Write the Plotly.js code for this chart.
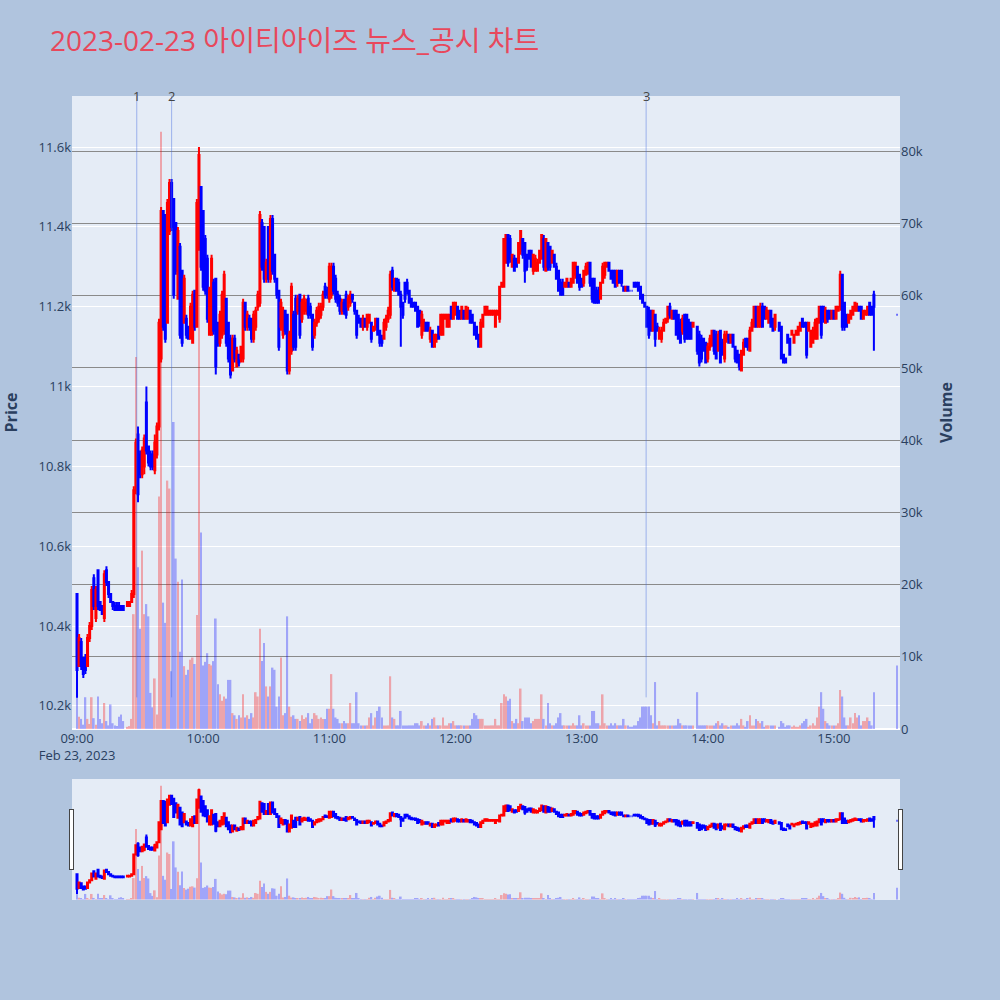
<!DOCTYPE html>
<html><head><meta charset="utf-8">
<script src="https://cdn.plot.ly/plotly-3.0.1.min.js"></script>
<style>html,body{margin:0;padding:0;background:#b0c4de}#chart{width:1000px;height:1000px}</style>
</head><body><div id="chart"></div>
<script>
const tradeDate = '2023-02-23';
const closingAuction = '15:30';
const chartTitle = '2023-02-23 아이티아이즈 뉴스_공시 차트';
const eventLabels = ['1', '2', '3'];
const eventTimes = ['2023-02-23 09:28:25', '2023-02-23 09:45:00', '2023-02-23 13:30:40'];

// one value per minute from 09:00 (continuous session), last value = 15:30 closing auction
const openP = [
10480,10300,10360,10320,10320,10300,10370,10400,10520,10420,
10540,10460,10450,10420,10540,10510,10480,10460,10450,10450,
10450,10450,10450,null,10450,10450,10460,10480,10740,10880,
10830,10780,10800,10960,10850,10830,10830,10790,10830,10900,
11070,11440,11430,11160,11390,11510,11470,11410,11220,11350,
11290,11160,11170,11150,11120,11110,11240,11150,11350,11500,
11440,11370,11320,11130,11130,11260,11270,11160,11110,11130,
11140,11220,11160,11120,11040,11120,11050,11080,11070,11070,
11210,11150,11170,11170,11120,11150,11200,11210,11410,11400,
11270,11400,11270,11420,11330,11270,11240,11150,11130,11190,
11180,11040,11090,11180,11220,11190,11230,11170,11190,11190,
11220,11200,11180,11130,11160,11170,11180,11200,11250,11240,
11220,11230,11300,11270,11230,11220,11190,11210,11230,11200,
11210,11230,11210,11190,11170,11170,11150,11170,11150,11160,
11160,11140,11150,11170,11140,11120,11120,11150,11170,11180,
11290,11240,11270,11260,11230,11210,11260,11260,11240,11220,
11210,11210,11200,11190,11130,11140,11160,11160,11120,11140,
11100,11120,11150,11130,11130,11170,11150,11150,11200,11170,
11180,11200,11190,11170,11190,11170,11170,11190,11180,11160,
11150,11130,11100,11150,11180,11180,11180,11180,11180,11150,
11180,11170,11250,11250,11310,11380,11370,11300,11320,11320,
11310,11340,11370,11360,11330,11340,11340,11290,11290,11290,
11310,11320,11370,11290,11360,11350,11310,11330,11300,11290,
11260,11260,11250,11250,11260,11250,11260,11280,11300,11280,
11270,11260,11280,11290,11310,11270,11270,11240,11240,11220,
11260,11280,11300,11310,11290,11290,11290,11260,11290,11290,
11250,11240,11250,11240,11240,11260,11260,11260,11250,11230,
11210,11200,11190,11190,11140,11180,11150,11120,11120,11140,
11160,11170,11200,11170,11190,11190,11180,11160,11140,11180,
11180,11160,11160,11150,null,11150,11130,11120,11120,11110,
11070,11100,11110,11140,11130,11090,11140,11110,11070,11120,
11130,11110,11130,11100,11090,11080,11040,11080,11120,11120,
11090,11140,11150,11200,11150,11150,11200,11200,11170,11160,
11190,11170,11150,null,11160,11150,11080,11070,11130,11120,
11130,11110,11130,11130,11140,11170,11160,11160,11140,11100,
11110,11120,11120,11160,11200,11200,11160,11190,11190,11170,
11190,11170,11190,11200,11280,11210,11180,11160,11170,11180,
11190,11190,11200,11200,11170,11180,11180,11210,11200,11230,
11180];

const highP = [
10480,10380,10370,10320,10330,10380,10410,10500,10530,10500,
10540,10460,10450,10540,10550,10510,10480,10460,10460,10460,
10460,10450,10450,null,10460,10460,10490,10750,10870,10900,
10840,10850,10880,11000,10850,10840,10840,10880,10910,11170,
11450,11440,11430,11470,11520,11520,11470,11410,11400,11360,
11290,11280,11180,11150,11210,11240,11240,11470,11600,11500,
11440,11380,11330,11250,11330,11270,11270,11160,11190,11240,
11290,11220,11160,11130,11130,11130,11100,11080,11100,11220,
11210,11190,11180,11170,11190,11200,11240,11440,11420,11400,
11320,11400,11430,11430,11330,11270,11240,11220,11200,11190,
11180,11140,11260,11190,11230,11230,11230,11220,11230,11220,
11230,11210,11180,11170,11200,11210,11210,11240,11260,11250,
11310,11310,11310,11280,11240,11230,11220,11220,11240,11230,
11240,11230,11210,11190,11180,11170,11180,11170,11180,11180,
11160,11150,11170,11170,11140,11130,11170,11180,11200,11290,
11300,11270,11270,11270,11240,11210,11260,11270,11240,11220,
11210,11210,11200,11190,11190,11170,11160,11160,11150,11140,
11130,11130,11150,11180,11180,11180,11180,11180,11200,11210,
11210,11200,11190,11200,11190,11200,11200,11190,11180,11160,
11150,11130,11170,11180,11200,11200,11190,11190,11190,11190,
11190,11250,11260,11370,11380,11380,11380,11330,11330,11320,
11360,11390,11370,11360,11330,11340,11340,11330,11330,11320,
11340,11380,11380,11370,11360,11350,11340,11330,11310,11290,
11270,11270,11260,11270,11260,11270,11310,11310,11300,11280,
11270,11290,11310,11310,11310,11270,11270,11250,11250,11260,
11310,11310,11310,11310,11290,11290,11290,11290,11290,11290,
11250,11250,11250,11240,11240,11260,11260,11260,11250,11230,
11210,11200,11200,11190,11190,11180,11160,11150,11150,11170,
11170,11200,11210,11190,11190,11190,11180,11170,11180,11180,
11180,11170,11160,11160,null,11150,11140,11130,11120,11110,
11110,11130,11140,11140,11140,11140,11140,11120,11140,11140,
11130,11130,11130,11100,11090,11080,11090,11120,11120,11120,
11150,11170,11200,11200,11200,11210,11210,11200,11200,11190,
11190,11170,11180,null,11160,11150,11080,11070,11130,11120,
11140,11130,11140,11150,11160,11170,11160,11160,11160,11140,
11150,11170,11170,11200,11200,11200,11200,11190,11190,11190,
11190,11200,11200,11290,11280,11210,11180,11180,11190,11200,
11210,11210,11200,11200,11190,11190,11200,11210,11200,11240,
11180];

const lowP = [
10220,10300,10290,10270,10280,10300,10360,10390,10440,10410,
10440,10440,10430,10410,10500,10470,10460,10440,10440,10440,
10440,10440,10440,null,10450,10450,10460,10470,10730,10710,
10770,10770,10780,10830,10800,10790,10790,10780,10820,10890,
11060,11140,11110,11160,11380,11390,11220,11280,11220,11120,
11100,11160,11120,11120,11120,11110,11140,11150,11340,11290,
11240,11230,11160,11130,11130,11130,11030,11100,11100,11120,
11130,11100,11060,11020,11040,11060,11050,11050,11060,11060,
11140,11140,11140,11110,11110,11140,11190,11200,11290,11260,
11260,11260,11260,11280,11260,11220,11090,11140,11120,11130,
11030,11030,11080,11090,11090,11180,11120,11160,11180,11180,
11170,11170,11090,11120,11150,11160,11170,11190,11220,11220,
11210,11220,11230,11210,11200,11180,11180,11180,11170,11190,
11200,11210,11180,11120,11160,11150,11140,11150,11140,11160,
11110,11140,11140,11130,11100,11100,11120,11140,11160,11170,
11240,11240,11240,11230,11100,11170,11210,11230,11210,11200,
11200,11190,11150,11150,11120,11140,11140,11140,11110,11100,
11100,11110,11120,11130,11130,11170,11150,11150,11170,11170,
11180,11170,11170,11170,11170,11170,11170,11160,11160,11130,
11120,11100,11100,11150,11180,11180,11180,11180,11180,11150,
11180,11160,11250,11250,11310,11300,11310,11300,11290,11300,
11310,11330,11320,11260,11290,11320,11300,11280,11290,11290,
11310,11320,11290,11290,11290,11290,11310,11300,11270,11240,
11230,11230,11250,11250,11250,11250,11260,11270,11260,11240,
11250,11250,11280,11280,11250,11210,11210,11210,11210,11220,
11260,11270,11300,11290,11270,11260,11250,11250,11260,11250,
11240,11240,11240,11240,11240,11250,11250,11240,11220,11210,
11200,11150,11120,11140,11140,11100,11140,11120,11110,11140,
11160,11160,11170,11170,11170,11130,11120,11110,11130,11110,
11120,11120,11120,11150,null,11080,11050,11060,11090,11060,
11060,11090,11100,11080,11070,11090,11060,11080,11060,11110,
11110,11110,11100,11060,11060,11040,11040,11080,11100,11090,
11090,11140,11150,11150,11150,11150,11150,11170,11170,11160,
11150,11140,11140,null,11140,11070,11060,11060,11110,11080,
11130,11110,11130,11130,11140,11150,11150,11070,11140,11100,
11110,11120,11120,11160,11120,11160,11160,11160,11170,11170,
11170,11170,11190,11190,11140,11140,11150,11160,11170,11180,
11190,11190,11190,11170,11170,11180,11180,11180,11180,11090,
11180];

const closeP = [
10290,10370,10300,10280,10290,10370,10400,10490,10450,10490,
10450,10440,10430,10530,10510,10480,10460,10450,10440,10440,
10440,10440,10440,null,10460,10460,10480,10740,10860,10730,
10780,10840,10870,10840,10810,10800,10800,10860,10900,11160,
11440,11150,11120,11460,11510,11400,11230,11290,11390,11130,
11110,11270,11130,11120,11200,11230,11150,11460,11580,11300,
11250,11240,11170,11240,11320,11140,11050,11110,11180,11230,
11280,11110,11070,11030,11120,11070,11090,11060,11100,11210,
11150,11180,11150,11120,11180,11190,11230,11430,11300,11270,
11310,11270,11420,11290,11270,11230,11100,11210,11190,11140,
11040,11130,11250,11100,11100,11220,11130,11210,11220,11210,
11180,11180,11100,11160,11190,11200,11200,11230,11230,11230,
11300,11300,11240,11220,11210,11190,11210,11190,11180,11220,
11230,11220,11190,11130,11160,11150,11170,11150,11180,11180,
11120,11150,11170,11130,11110,11110,11160,11170,11190,11280,
11250,11270,11240,11230,11200,11180,11220,11240,11210,11200,
11200,11190,11150,11160,11180,11160,11140,11140,11140,11100,
11130,11130,11120,11180,11180,11180,11180,11180,11170,11210,
11210,11170,11170,11200,11170,11200,11190,11160,11160,11130,
11120,11100,11160,11180,11200,11200,11190,11190,11190,11190,
11190,11250,11260,11370,11380,11310,11320,11330,11290,11300,
11360,11390,11330,11290,11300,11320,11300,11330,11320,11310,
11340,11380,11300,11370,11300,11300,11340,11300,11270,11240,
11230,11230,11260,11270,11250,11270,11310,11310,11260,11250,
11250,11290,11300,11310,11260,11220,11210,11210,11210,11260,
11300,11310,11310,11290,11270,11260,11250,11290,11260,11260,
11240,11250,11240,11240,11240,11250,11250,11240,11220,11210,
11200,11150,11130,11140,11190,11120,11140,11140,11140,11160,
11170,11200,11180,11190,11170,11130,11120,11110,11170,11120,
11120,11120,11120,11160,null,11090,11060,11070,11090,11060,
11100,11120,11140,11090,11070,11130,11060,11080,11130,11130,
11110,11130,11100,11070,11060,11050,11090,11110,11100,11100,
11140,11160,11200,11150,11200,11200,11150,11170,11190,11190,
11150,11140,11180,null,11140,11070,11060,11060,11110,11080,
11140,11130,11140,11150,11160,11150,11150,11080,11160,11140,
11140,11160,11170,11200,11130,11170,11190,11170,11170,11190,
11170,11200,11200,11280,11150,11150,11150,11180,11190,11200,
11210,11200,11190,11170,11190,11190,11200,11180,11180,11200,
11180];

const volume = [
4500,1700,1400,600,4400,1400,700,4400,1500,600,
4500,1400,800,3600,1100,500,3400,800,500,400,
1700,2000,1100,null,300,400,1400,15900,51500,22400,
13900,24700,15900,17300,15600,5000,3000,7000,2000,32200,
82700,17500,14700,34400,33300,8000,42500,23600,20400,10700,
20700,8700,7500,8200,9600,9900,9000,15800,80600,27200,
8800,9300,10500,9000,8800,9400,15300,6200,4800,3900,
4500,4200,6800,6800,2200,1900,1400,1900,1600,4800,
1600,1900,1400,2200,1600,5100,4500,13900,9400,11900,
5900,4500,5900,8500,8200,3100,4500,9900,1900,2200,
15600,3100,1700,1900,1400,1400,1100,1900,1400,1600,
2200,800,1400,2200,1900,1400,1600,1400,1400,2800,
2800,7600,2800,1600,1400,800,800,1100,800,800,
3600,800,800,5100,800,500,500,500,500,1600,
2200,500,1600,2500,3100,1600,500,500,500,7300,
1600,1400,500,500,2500,500,500,500,500,500,
500,800,800,500,1100,500,500,800,500,1400,
1600,500,500,500,1600,500,500,800,800,1100,
500,500,500,500,500,500,500,500,1400,2200,
1900,1400,1400,1400,500,500,500,500,500,1400,
500,500,3600,4800,4500,3900,4200,1100,800,1400,
800,5600,1100,1600,1600,1600,800,1100,1400,1400,
1400,4800,1400,500,3600,800,500,500,800,1600,
2200,500,500,500,500,500,800,500,500,1900,
500,800,500,500,500,2500,2500,800,800,500,
4800,800,500,500,800,500,800,500,500,500,
1400,500,500,300,300,500,500,1100,1600,3100,
3100,3100,3100,1900,800,6500,500,1100,500,500,
500,500,500,500,500,500,1400,800,500,500,
500,500,500,500,null,5100,500,500,500,500,
500,500,500,500,800,1100,500,800,500,500,
300,500,500,500,800,500,1400,500,300,1100,
1900,500,500,1400,1100,800,1100,300,500,500,
500,500,500,null,300,1100,800,300,500,500,
300,500,300,300,500,800,1100,1400,300,500,
800,500,1600,3100,5100,2800,1100,800,500,500,
500,500,800,5400,4500,1600,500,500,1600,800,
2200,1600,1900,500,1100,1100,1600,1100,500,5100,
8800];

function pad(n) { return (n < 10 ? '0' : '') + n; }
const times = [];
for (let i = 0; i < openP.length - 1; i++) {
  const m = 9 * 60 + i;
  times.push(tradeDate + ' ' + pad(Math.floor(m / 60)) + ':' + pad(m % 60));
}
times.push(tradeDate + ' ' + closingAuction);

const volColors = closeP.map((c, i) => (c !== null && c > openP[i]) ? 'red' : 'blue');

const xRange = ['2023-02-23 08:57:37', '2023-02-23 15:31:25'];

const traces = [
  {
    type: 'candlestick', x: times, open: openP, high: highP, low: lowP, close: closeP,
    increasing: { line: { color: 'red' }, fillcolor: 'red' },
    decreasing: { line: { color: 'blue' }, fillcolor: 'blue' },
    yaxis: 'y', name: 'Price', showlegend: false
  },
  {
    type: 'bar', x: times, y: volume, yaxis: 'y2', name: 'Volume',
    marker: { color: volColors, line: { width: 0 } }, opacity: 0.3, showlegend: false
  }
];

const shapes = eventTimes.map(t => ({
  type: 'line', xref: 'x', yref: 'paper', x0: t, x1: t, y0: 0.05, y1: 1,
  line: { color: 'rgba(65,105,225,0.45)', width: 1 }
}));
const annotations = eventTimes.map((t, i) => ({
  x: t, y: 1, xref: 'x', yref: 'paper', text: eventLabels[i], showarrow: false,
  yanchor: 'middle', xanchor: 'center', font: { size: 13, color: '#444' }
}));

const layout = {
  width: 1000, height: 1000,
  paper_bgcolor: '#b0c4de', plot_bgcolor: '#e5ecf6',
  font: { family: '"Open Sans", verdana, arial, sans-serif', size: 13, color: '#2a3f5f' },
  title: {
    text: chartTitle, x: 0.05, xanchor: 'left', xref: 'container',
    y: 0.959, yanchor: 'middle', yref: 'container',
    font: { size: 28, color: '#e8485c', family: '"Open Sans", "Noto Sans CJK KR", sans-serif' }
  },
  margin: { l: 72, r: 100, t: 96, b: 100 },
  showlegend: false,
  bargap: 0.2,
  xaxis: {
    type: 'date', range: xRange, autorange: false, showgrid: false, zeroline: false,
    dtick: 3600000, tick0: '2023-02-23 09:00', ticks: '',
    rangeslider: { visible: true, range: xRange, thickness: 0.15 }
  },
  yaxis: {
    title: { text: '<b>Price</b>', standoff: 18 }, range: [10142, 11728], autorange: false,
    dtick: 200, gridcolor: 'white', zeroline: false, ticks: ''
  },
  yaxis2: {
    title: { text: '<b>Volume</b>', standoff: 18 }, overlaying: 'y', side: 'right',
    range: [0, 87660], autorange: false, dtick: 10000, showgrid: true,
    gridcolor: '#8a8a8a', zeroline: true, zerolinecolor: 'white', zerolinewidth: 2, ticks: ''
  },
  shapes: shapes,
  annotations: annotations
};

Plotly.newPlot('chart', traces, layout, { displayModeBar: false, responsive: false });
</script>
</body></html>
